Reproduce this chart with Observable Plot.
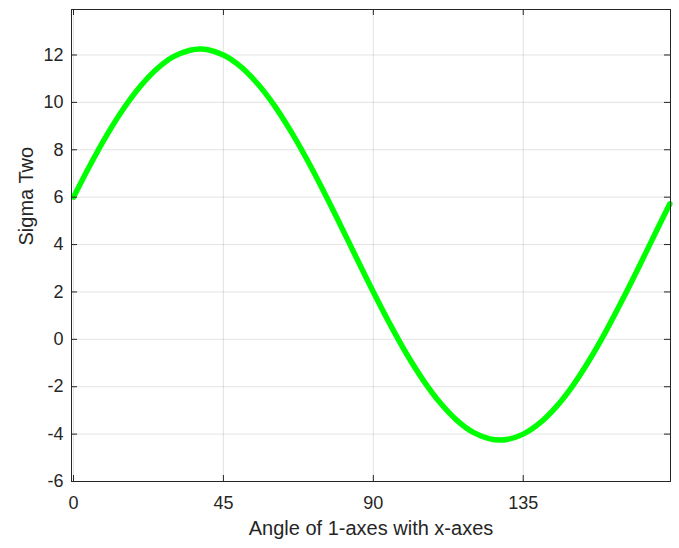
<!DOCTYPE html>
<html>
<head>
<meta charset="utf-8">
<script src="https://cdn.jsdelivr.net/npm/d3@7"></script>
<script src="https://cdn.jsdelivr.net/npm/@observablehq/plot@0.6"></script>
<style>
  html, body { margin: 0; padding: 0; background: #ffffff; }
</style>
</head>
<body>
<div id="chart"></div>
<script>
// Angle (degrees) and Sigma Two values
const angles = [0, 5, 10, 15, 20, 25, 30, 35, 38, 40, 45, 50, 55, 60, 65, 70, 75, 80, 85, 90,
                95, 100, 105, 110, 115, 120, 125, 128, 130, 135, 140, 145, 150, 155, 160, 165, 170, 175, 179];
const sigmaTwo = [6.00, 7.36, 8.62, 9.73, 10.67, 11.41, 11.93, 12.20, 12.25, 12.23, 12.00, 11.53, 10.83, 9.93, 8.84, 7.61, 6.27, 4.86, 3.42, 2.00,
                  0.64, -0.62, -1.73, -2.67, -3.41, -3.93, -4.20, -4.25, -4.23, -4.00, -3.53, -2.83, -1.93, -0.84, 0.39, 1.73, 3.14, 4.58, 5.72];
const xTicks = [0, 45, 90, 135];
const yTicks = [-6, -4, -2, 0, 2, 4, 6, 8, 10, 12];
const xDomain = [-0.6, 179.2];
const yDomain = [-6, 13.92];
const xLabel = "Angle of 1-axes with x-axes";
const yLabel = "Sigma Two";

const data = angles.map((a, i) => ({angle: a, sigma: sigmaTwo[i]}));

const W = 679, H = 548;
const mL = 71, mR = 9, mT = 9, mB = 67;
const innerW = W - mL - mR, innerH = H - mT - mB;
const tickLen = 6;
const ink = "#262626";
const fmt = d => String(d);

const chart = Plot.plot({
  width: W,
  height: H,
  marginLeft: mL,
  marginRight: mR,
  marginTop: mT,
  marginBottom: mB,
  x: {domain: xDomain},
  y: {domain: yDomain},
  style: {
    fontFamily: "'Liberation Sans', Arial, Helvetica, sans-serif",
    fontSize: "18px",
    color: ink,
    background: "#ffffff"
  },
  marks: [
    Plot.gridX(xTicks, {stroke: ink, strokeOpacity: 0.13, strokeWidth: 1}),
    Plot.gridY(yTicks, {stroke: ink, strokeOpacity: 0.13, strokeWidth: 1}),
    Plot.line(data, {x: "angle", y: "sigma", stroke: "#00ff00", strokeWidth: 5.5, curve: "catmull-rom"}),
    Plot.axisX(xTicks, {tickSize: 0, tickPadding: 14.5, tickFormat: fmt, label: null, fontSize: 18}),
    Plot.axisY(yTicks, {tickSize: 0, tickPadding: 8, tickFormat: fmt, label: null, fontSize: 18}),
    Plot.tickY(yTicks, {y: d => d, stroke: ink, insetRight: innerW - tickLen}),
    Plot.tickY(yTicks, {y: d => d, stroke: ink, insetLeft: innerW - tickLen}),
    Plot.tickX(xTicks, {x: d => d, stroke: ink, insetTop: innerH - tickLen}),
    Plot.tickX(xTicks, {x: d => d, stroke: ink, insetBottom: innerH - tickLen}),
    Plot.frame({stroke: ink, strokeWidth: 1}),
    Plot.text([xLabel], {frameAnchor: "bottom", dy: 53.5, lineAnchor: "bottom", fontSize: 20, fill: ink}),
    Plot.text([yLabel], {frameAnchor: "left", rotate: -90, dx: -45, lineAnchor: "middle", fontSize: 20, fill: ink})
  ]
});

document.getElementById("chart").appendChild(chart);
</script>
</body>
</html>
